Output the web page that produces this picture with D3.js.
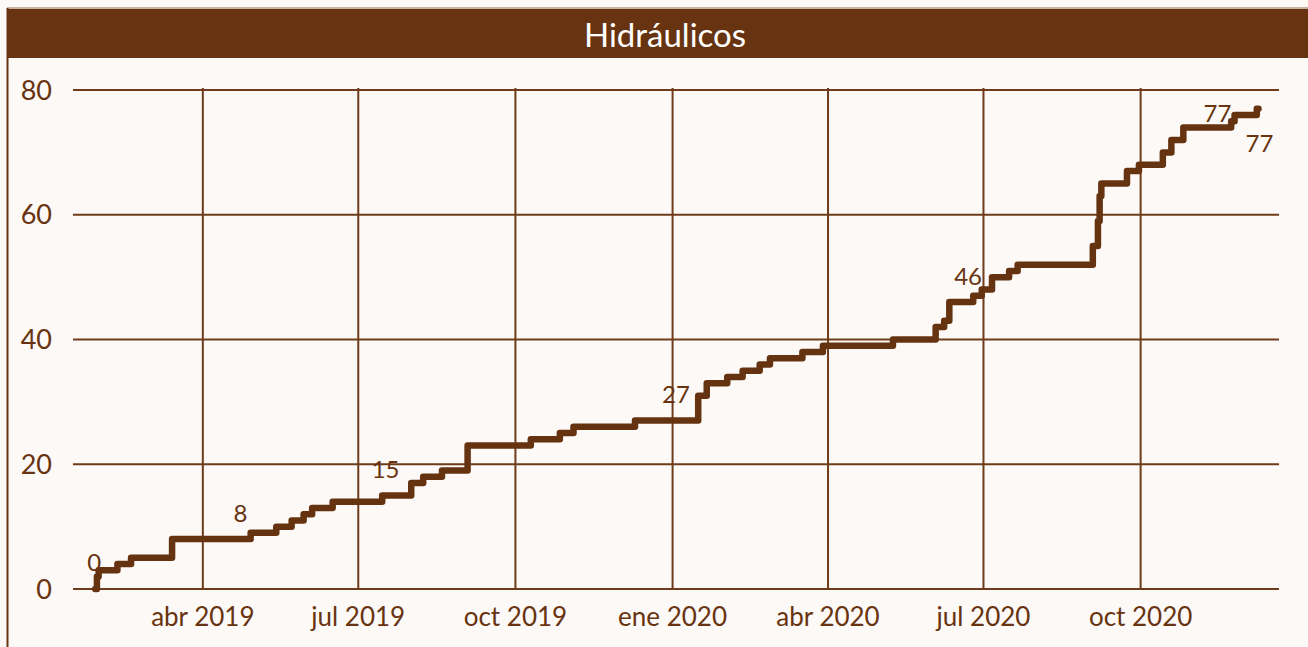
<!DOCTYPE html>
<html>
<head>
<meta charset="utf-8">
<script src="https://cdn.jsdelivr.net/npm/d3@7"></script>
<style>
  html, body { margin: 0; padding: 0; background: #fcf9f6; }
  svg { display: block; }
  text { font-family: Lato, "Open Sans", sans-serif; }
</style>
</head>
<body>
<svg id="chart" width="1308" height="647"></svg>
<script>
// ---- data ----
const title = "Hidráulicos";
const stepDates = [
  "2019-01-28","2019-01-29","2019-01-30","2019-02-10","2019-02-18","2019-03-14",
  "2019-04-29","2019-05-14","2019-05-23","2019-05-30","2019-06-04","2019-06-16",
  "2019-07-15","2019-08-01","2019-08-08","2019-08-19","2019-09-03","2019-10-10",
  "2019-10-27","2019-11-04","2019-12-10","2020-01-16","2020-01-21","2020-02-02",
  "2020-02-11","2020-02-21","2020-02-27","2020-03-17","2020-03-29","2020-05-09",
  "2020-06-03","2020-06-08","2020-06-11","2020-06-25","2020-06-30","2020-07-06",
  "2020-07-16","2020-07-21","2020-09-03","2020-09-06","2020-09-07","2020-09-08",
  "2020-09-23","2020-09-30","2020-10-14","2020-10-19","2020-10-26","2020-11-23",
  "2020-11-25","2020-12-08","2020-12-09"
];
const stepValues = [
  0,2,3,4,5,8,
  9,10,11,12,13,14,
  15,17,18,19,23,24,
  25,26,27,31,33,34,
  35,36,37,38,39,40,
  42,43,46,47,48,50,
  51,52,55,59,63,65,
  67,68,70,72,74,75,
  76,77,77
];
const labelDates  = ["2019-01-28","2019-04-23","2019-07-17","2020-01-03","2020-06-22","2020-12-09","2020-12-09"];
const labelValues = [0, 8, 15, 27, 46, 77, 77];
const yTicks = [0, 20, 40, 60, 80];
const xDomain = ["2019-01-15", "2020-12-21"];
const monthNames = ["ene","feb","mar","abr","may","jun","jul","ago","sep","oct","nov","dic"];

// ---- layout / style ----
const brown = "#683310";
const lineBrown = "#663311";
const gridBrown = "#6e3c1a";
const plot = { left: 73, right: 1279, top: 90, bottom: 589 };

const parse = d3.timeParse("%Y-%m-%d");
const svg = d3.select("#chart");

svg.append("rect").attr("x", 0).attr("y", 0).attr("width", 1308).attr("height", 647).attr("fill", "#fcf9f6");

// frame
svg.append("line").attr("x1", 7).attr("x2", 1308).attr("y1", 8).attr("y2", 8)
  .attr("stroke", "#b89a86").attr("stroke-width", 1.5);
svg.append("line").attr("x1", 7.5).attr("x2", 7.5).attr("y1", 8).attr("y2", 647)
  .attr("stroke", brown).attr("stroke-width", 2);

// title bar
svg.append("rect").attr("x", 7).attr("y", 9).attr("width", 1301).attr("height", 49).attr("fill", brown);
svg.append("text").attr("x", 665).attr("y", 35).attr("dy", "0.35em")
  .attr("text-anchor", "middle").attr("fill", "#ffffff")
  .attr("font-size", 33).text(title);

const x = d3.scaleTime().domain(xDomain.map(parse)).range([plot.left, plot.right]);
const y = d3.scaleLinear().domain([0, 80]).range([plot.bottom, plot.top]);

// horizontal gridlines
svg.append("g").selectAll("line").data(yTicks).join("line")
  .attr("x1", plot.left).attr("x2", plot.right)
  .attr("y1", d => y(d)).attr("y2", d => y(d))
  .attr("stroke", gridBrown).attr("stroke-width", 2);

// vertical gridlines at quarters
const xTicks = d3.timeMonth.every(3).range(parse("2019-04-01"), parse("2020-12-21"))
  .filter(d => d.getMonth() % 3 === 0);
svg.append("g").selectAll("line").data(xTicks).join("line")
  .attr("x1", d => x(d)).attr("x2", d => x(d))
  .attr("y1", plot.top - 2).attr("y2", plot.bottom)
  .attr("stroke", gridBrown).attr("stroke-width", 2);

// y axis labels
svg.append("g").selectAll("text").data(yTicks).join("text")
  .attr("x", 52).attr("y", d => y(d)).attr("dy", "0.36em")
  .attr("text-anchor", "end").attr("fill", brown).attr("font-size", 27)
  .text(d => d);

// x axis labels
svg.append("g").selectAll("text").data(xTicks).join("text")
  .attr("x", d => x(d)).attr("y", 617).attr("dy", "0.36em")
  .attr("text-anchor", "middle").attr("fill", brown).attr("font-size", 26)
  .text(d => monthNames[d.getMonth()] + " " + d.getFullYear());

// step line
const pts = stepDates.map((d, i) => ({ date: parse(d), value: stepValues[i] }));
const line = d3.line().x(d => x(d.date)).y(d => y(d.value)).curve(d3.curveStepAfter);
svg.append("path").datum(pts).attr("d", line)
  .attr("fill", "none").attr("stroke", lineBrown).attr("stroke-width", 6.5)
  .attr("stroke-linejoin", "round").attr("stroke-linecap", "round");

// data labels
const labelOffsets = [[-1, -27], [0, -26], [0, -26], [0, -26], [0, -26], [-41, 5], [1, 35]];
const labels = labelDates.map((d, i) => ({ date: parse(d), value: labelValues[i], off: labelOffsets[i] }));
svg.append("g").selectAll("text").data(labels).join("text")
  .attr("x", d => x(d.date) + d.off[0])
  .attr("y", d => y(d.value) + d.off[1])
  .attr("dy", "0.36em").attr("text-anchor", "middle")
  .attr("fill", brown).attr("font-size", 24)
  .text(d => d.value);
</script>
</body>
</html>
